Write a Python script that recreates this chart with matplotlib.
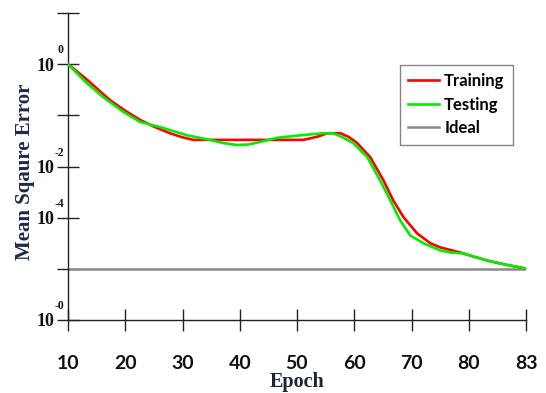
import matplotlib
matplotlib.use("Agg")
import matplotlib.pyplot as plt
import matplotlib.transforms as mtransforms

# Epoch axis positions (last tick labelled 83 sits at the 90 slot)
train_x = [10, 13.5, 17.3, 20.0, 22.6, 25.2, 27.8, 30.0, 31.9, 36.0, 41.8, 46.0, 51.1,
           53.5, 55.3, 57.6, 59.0, 60.5, 62.8, 65.1, 66.8, 68.6, 71.0, 73.3, 75.0,
           78.5, 80.5, 83.3, 86.5, 90.2]
train_y = [5.0, 4.68, 4.30, 4.09, 3.91, 3.77, 3.65, 3.57, 3.52, 3.52, 3.52, 3.52, 3.52,
           3.58, 3.65, 3.65, 3.58, 3.46, 3.18, 2.73, 2.34, 2.01, 1.69, 1.50, 1.42,
           1.32, 1.25, 1.16, 1.08, 1.00]

test_x = [10, 13.0, 16.1, 19.5, 22.6, 26.1, 30.8, 34.8, 37.0, 39.5, 41.5, 43.6, 46.5,
          50.6, 54.6, 56.3, 57.8, 59.8, 62.3, 64.5, 66.3, 68.0, 69.8, 72.1,
          75.0, 76.8, 79.1, 83.3, 86.5, 90.2]
test_y = [5.0, 4.66, 4.36, 4.08, 3.87, 3.77, 3.61, 3.52, 3.46, 3.42, 3.43, 3.48, 3.56,
          3.61, 3.65, 3.65, 3.58, 3.46, 3.18, 2.73, 2.34, 1.95, 1.65, 1.50,
          1.36, 1.32, 1.30, 1.16, 1.08, 1.00]

ideal_x = [10, 90.2]
ideal_y = [1.0, 1.0]

x_ticks = [10, 20, 30, 40, 50, 60, 70, 80, 90]
x_labels = ["10", "20", "30", "40", "50", "60", "70", "80", "83"]
y_ticks = [0, 1, 2, 3, 4, 5, 6]
y_labels = ["10", "", "10", "10", "", "10", ""]
y_exps = {0: "-0", 2: "-4", 3: "-2", 5: "0"}

fig = plt.figure(figsize=(5.46, 3.93), dpi=100)
ax = fig.add_axes([68/546, 1-320/393, (526-68)/546, (320-13)/393])

ax.plot(ideal_x, ideal_y, color="#8a8a8a", lw=1.8, label="Ideal", zorder=2)
ax.plot(train_x, train_y, color="#ff0000", lw=1.9, label="Training", zorder=3,
        solid_joinstyle="round")
ax.plot(test_x, test_y, color="#00ee00", lw=1.9, label="Testing", zorder=4,
        solid_joinstyle="round")

ax.set_xlim(10, 90)
ax.set_ylim(0, 6)
for s in ["top", "right"]:
    ax.spines[s].set_visible(False)
for s in ["left", "bottom"]:
    ax.spines[s].set_color("#222222")
    ax.spines[s].set_linewidth(1.0)

ax.set_xticks(x_ticks)
ax.set_xticklabels(x_labels, fontfamily="Lato", fontweight="bold", fontsize=14)
ax.set_yticks(y_ticks)
ax.set_yticklabels(y_labels, fontfamily="Liberation Serif", fontweight="bold", fontsize=13)
ax.tick_params(axis="x", direction="inout", length=16, width=1.0, pad=17, colors="#222222")
ax.tick_params(axis="y", direction="inout", length=16, width=1.0, pad=2, colors="#222222")
for lab in ax.get_yticklabels():
    lab.set_color("#111111")
for lab in ax.get_xticklabels():
    lab.set_color("#111111")

trans = mtransforms.blended_transform_factory(ax.transAxes, ax.transData)
for yv, ex in y_exps.items():
    ax.annotate(ex, xy=(0, yv), xycoords=trans, xytext=(-4, 8),
                textcoords="offset pixels", ha="right", va="bottom",
                fontfamily="Liberation Serif", fontweight="bold", fontsize=8.5,
                color="#111111")

ax.set_xlabel("Epoch", fontfamily="Liberation Serif", fontweight="bold",
              fontsize=14.5, color="#1c2436", labelpad=0)
ax.set_ylabel("Mean Sqaure Error", fontfamily="Liberation Serif", fontweight="bold",
              fontsize=15, color="#1c2a48")
ax.yaxis.set_label_coords(-0.072, 0.482)

handles, labels = ax.get_legend_handles_labels()
order = [1, 2, 0]
leg = ax.legend([handles[i] for i in order], [labels[i] for i in order],
                loc="upper left", bbox_to_anchor=((400-68)/458, (320-65)/307),
                frameon=True, fancybox=False, edgecolor="#666666",
                prop={"family": "Lato", "weight": "bold", "size": 12},
                handlelength=1.85, handletextpad=0.3, labelspacing=0.45,
                borderpad=0.5, borderaxespad=0)
leg.get_frame().set_linewidth(1.0)

fig.savefig("out.png", dpi=100)
